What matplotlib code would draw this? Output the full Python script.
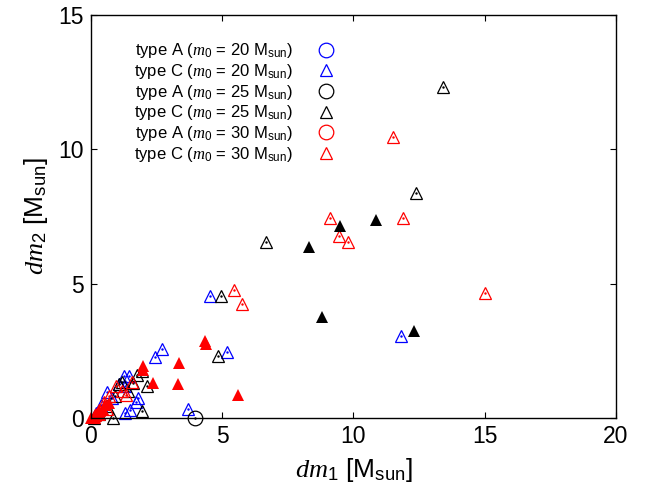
import matplotlib
matplotlib.use('Agg')
import matplotlib.pyplot as plt
from matplotlib.lines import Line2D

plt.rcParams['font.family'] = 'Liberation Sans'
plt.rcParams['mathtext.fontset'] = 'custom'
plt.rcParams['mathtext.rm'] = 'Liberation Sans'
plt.rcParams['mathtext.it'] = 'Liberation Serif:italic'

# type C, m0 = 20 (blue open triangles)
c20_x = [11.8, 4.55, 5.2, 3.7, 2.7, 2.45, 1.45, 1.3, 1.7, 1.3, 1.25, 0.6, 0.2, 1.05, 0.8, 0.4, 1.5, 1.8]
c20_y = [3.05, 4.55, 2.45, 0.35, 2.55, 2.25, 1.55, 1.2, 0.6, 0.2, 1.55, 0.95, 0.2, 1.25, 0.75, 0.5, 0.3, 0.75]
# type A, m0 = 25 (black open circle)
a25_x = [3.95]
a25_y = [0.0]
# type C, m0 = 25 (black open triangles)
c25_x = [13.4, 12.4, 6.65, 4.95, 4.85, 1.95, 0.85, 1.75, 1.95, 1.2, 1.05, 2.15, 0.6, 0.3, 1.4, 0.9, 1.6, 0.1]
c25_y = [12.3, 8.35, 6.55, 4.55, 2.3, 0.25, 0.0, 1.6, 1.75, 1.35, 1.25, 1.2, 0.45, 0.15, 1.0, 0.8, 1.3, 0.0]
# type C, m0 = 30 (red open triangles)
c30_x = [11.5, 9.1, 11.9, 9.45, 9.8, 15.0, 5.45, 5.75, 0.95, 1.55, 0.5, 0.3, 0.7, 1.2, 0.15, 0.6, 1.35]
c30_y = [10.45, 7.45, 7.45, 6.75, 6.55, 4.65, 4.75, 4.25, 1.2, 1.35, 0.6, 0.3, 0.8, 1.0, 0.1, 0.35, 0.85]
# unlabelled filled triangles
fb_x = [10.85, 9.5, 8.3, 8.8, 12.3]
fb_y = [7.35, 7.15, 6.35, 3.75, 3.25]
fr_x = [4.35, 4.4, 5.6, 3.35, 3.3, 2.0, 2.35, 2.0, 0.0, 0.1, 0.2, 0.3, 0.45, 0.15, 0.55, 0.35, 0.7]
fr_y = [2.85, 2.75, 0.85, 2.05, 1.25, 1.95, 1.3, 1.8, 0.0, 0.05, 0.15, 0.25, 0.35, 0.0, 0.5, 0.1, 0.55]

fig = plt.figure(figsize=(6.57, 4.9), dpi=100)
ax = fig.add_axes([0.1385, 0.1469, 0.799, 0.8235])

ms_t = 8.5
ms_c = 10.5
mew = 0.9

def open_pts(x, y, marker, color, ms):
    ax.plot(x, y, ls='none', marker=marker, ms=ms, mfc='none', mec=color, mew=mew, clip_on=False)
    ax.plot(x, y, ls='none', marker='.', ms=1.5, color=color, clip_on=False)

open_pts(c20_x, c20_y, '^', 'blue', ms_t)
open_pts(a25_x, a25_y, 'o', 'black', ms_c)
open_pts(c25_x, c25_y, '^', 'black', ms_t)
open_pts(c30_x, c30_y, '^', 'red', ms_t)
ax.plot(fb_x, fb_y, ls='none', marker='^', ms=ms_t, color='black', mew=0, clip_on=False)
ax.plot(fr_x, fr_y, ls='none', marker='^', ms=ms_t, color='red', mew=0, clip_on=False)

ax.set_xlim(0, 20)
ax.set_ylim(0, 15)
ax.set_xticks([0, 5, 10, 15, 20])
ax.set_yticks([0, 5, 10, 15])
ax.tick_params(direction='in', length=4, width=0.8, top=True, right=True, labelsize=16.5, pad=5)
for s in ax.spines.values():
    s.set_linewidth(1.0)

ax.set_xlabel(r'$dm_1$ [M$_{\mathrm{sun}}$]', fontsize=19, labelpad=6)
ax.set_ylabel(r'$dm_2$ [M$_{\mathrm{sun}}$]', fontsize=19, labelpad=6)

labels = [r'type A ($m_0$ = 20 M$_{\mathrm{sun}}$)', r'type C ($m_0$ = 20 M$_{\mathrm{sun}}$)',
          r'type A ($m_0$ = 25 M$_{\mathrm{sun}}$)', r'type C ($m_0$ = 25 M$_{\mathrm{sun}}$)',
          r'type A ($m_0$ = 30 M$_{\mathrm{sun}}$)', r'type C ($m_0$ = 30 M$_{\mathrm{sun}}$)']
styles = [('o', 'blue'), ('^', 'blue'), ('o', 'black'), ('^', 'black'), ('o', 'red'), ('^', 'red')]
handles = [Line2D([], [], ls='none', marker=m, ms=(ms_c if m == 'o' else ms_t), mfc='none', mec=c, mew=mew)
           for m, c in styles]
leg = ax.legend(handles, labels, loc='upper left', bbox_to_anchor=(0.07, 0.95), frameon=False,
                markerfirst=False, fontsize=12, labelspacing=0.1, handletextpad=1.2,
                handlelength=1.5, borderaxespad=0)

fig.savefig('out.png', dpi=100)
